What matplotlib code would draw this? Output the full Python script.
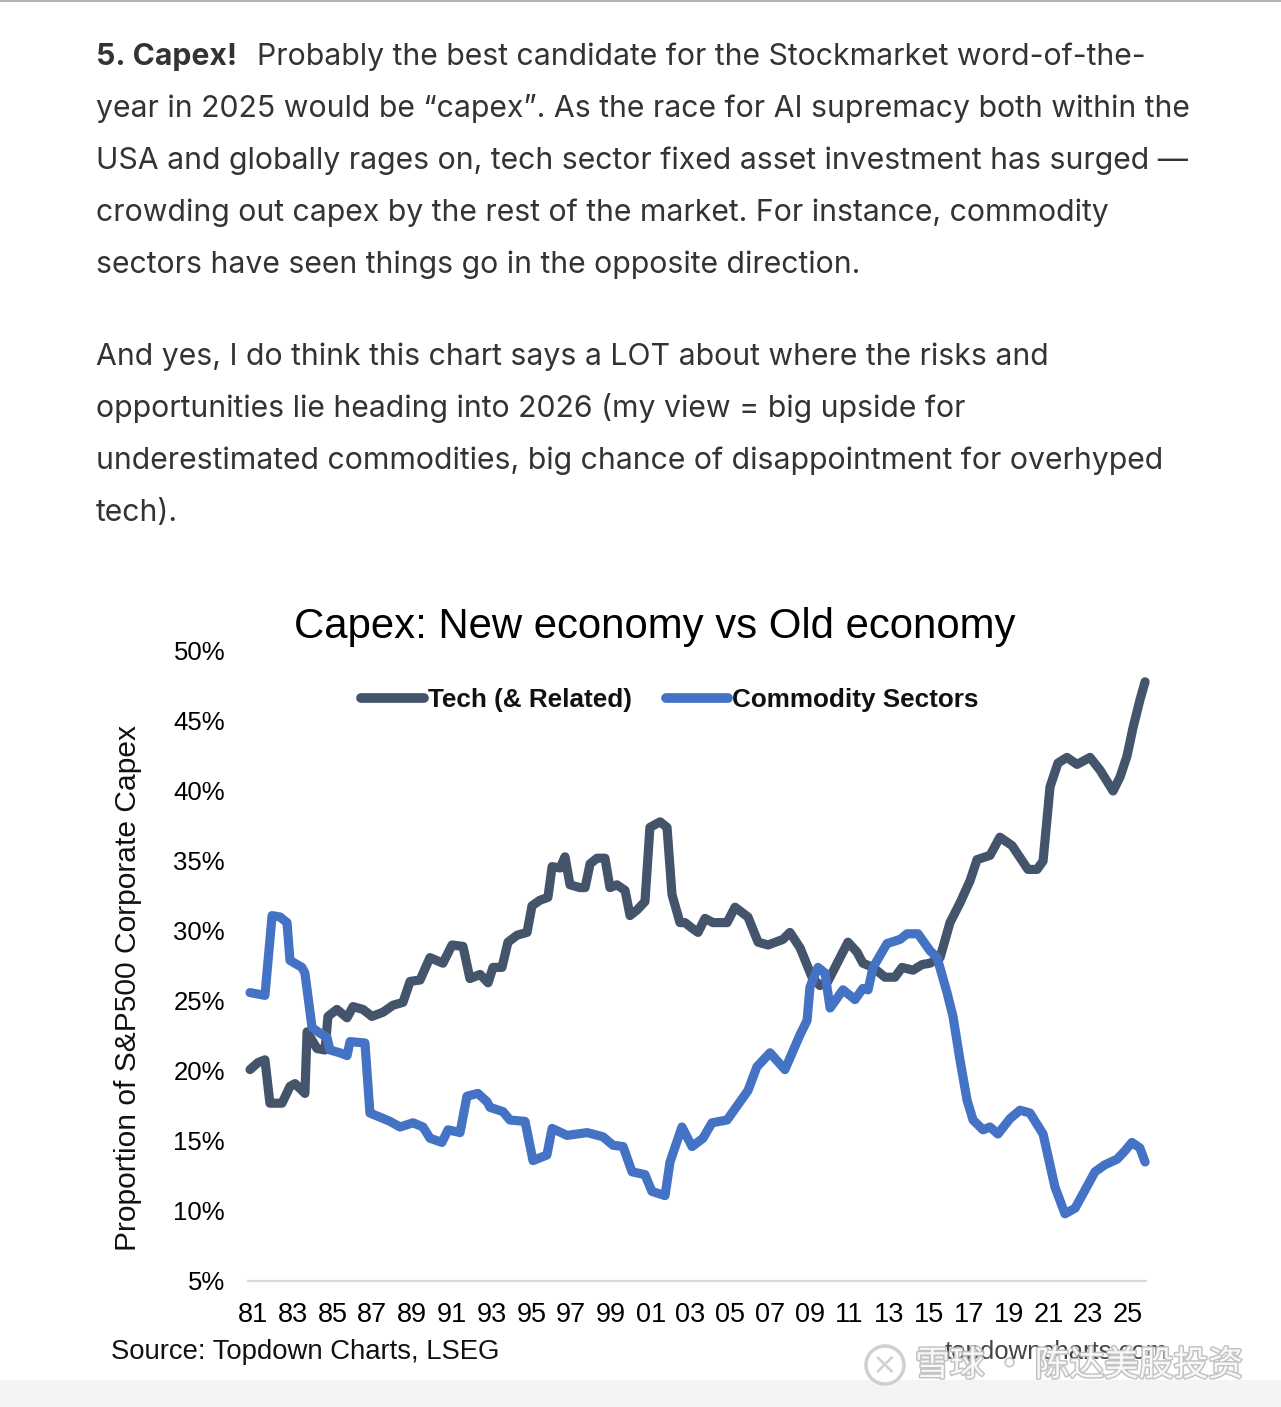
import matplotlib
matplotlib.use("Agg")
import matplotlib.pyplot as plt
import matplotlib.patheffects as pe
from matplotlib.patches import Circle, Rectangle
from matplotlib.transforms import IdentityTransform

W, H = 1281, 1407

# ---- data (decimal year, % of S&P500 capex) ----
tech_years = [1980.85, 1981.25, 1981.60, 1981.85, 1982.46, 1982.86, 1983.11, 1983.61, 1983.72,
              1984.22, 1984.62, 1984.77, 1985.22, 1985.73, 1986.03, 1986.53, 1986.98, 1987.54,
              1988.04, 1988.54, 1988.90, 1989.40, 1989.90, 1990.55, 1991.01, 1991.56, 1991.91,
              1992.42, 1992.82, 1993.07, 1993.52, 1993.82, 1994.28, 1994.78, 1995.03, 1995.43,
              1995.83, 1996.04, 1996.44, 1996.69, 1996.94, 1997.44, 1997.70, 1997.95, 1998.30,
              1998.70, 1998.95, 1999.30, 1999.71, 1999.96, 2000.31, 2000.71, 2000.96, 2001.47,
              2001.82, 2002.07, 2002.47, 2002.72, 2003.08, 2003.38, 2003.73, 2004.13, 2004.84,
              2005.24, 2005.89, 2006.40, 2006.90, 2007.65, 2008.00, 2008.51, 2009.11, 2009.51,
              2009.91, 2010.52, 2010.92, 2011.37, 2011.67, 2012.18, 2012.78, 2013.28, 2013.64,
              2014.19, 2014.64, 2015.04, 2015.55, 2016.05, 2016.55, 2017.06, 2017.41, 2018.06,
              2018.56, 2019.17, 2019.97, 2020.43, 2020.73, 2021.08, 2021.48, 2021.93, 2022.44,
              2023.09, 2023.59, 2024.25, 2024.60, 2024.95, 2025.25, 2025.60, 2025.86]
tech_vals = [20.1, 20.6, 20.8, 17.7, 17.7, 18.9, 19.1, 18.4, 22.8,
             21.6, 21.5, 23.9, 24.4, 23.8, 24.6, 24.4, 23.9, 24.2,
             24.7, 24.9, 26.4, 26.5, 28.1, 27.7, 29.0, 28.9, 26.6,
             26.9, 26.3, 27.4, 27.4, 29.2, 29.7, 29.9, 31.8, 32.2,
             32.4, 34.6, 34.5, 35.3, 33.3, 33.1, 33.1, 34.8, 35.2,
             35.2, 33.1, 33.3, 32.9, 31.1, 31.5, 32.1, 37.4, 37.8,
             37.4, 32.6, 30.6, 30.6, 30.2, 29.9, 30.9, 30.6, 30.6,
             31.7, 31.0, 29.2, 29.0, 29.4, 29.9, 28.8, 26.7, 26.1,
             26.4, 28.1, 29.2, 28.5, 27.7, 27.4, 26.7, 26.7, 27.4,
             27.2, 27.6, 27.7, 28.1, 30.6, 32.0, 33.6, 35.1, 35.4,
             36.7, 36.1, 34.4, 34.4, 35.0, 40.3, 42.0, 42.4, 41.9,
             42.4, 41.5, 40.0, 41.0, 42.5, 44.5, 46.5, 47.8]

comm_years = [1980.85, 1981.60, 1981.96, 1982.36, 1982.71, 1982.86, 1983.46, 1983.61, 1983.97,
              1984.37, 1984.72, 1984.87, 1985.37, 1985.73, 1985.88, 1986.63, 1986.88, 1987.39,
              1987.89, 1988.39, 1989.05, 1989.55, 1989.90, 1990.50, 1990.81, 1991.41, 1991.76,
              1992.31, 1992.77, 1992.92, 1993.57, 1993.92, 1994.68, 1995.08, 1995.78, 1996.04,
              1996.79, 1997.80, 1998.60, 1999.10, 1999.61, 2000.06, 2000.71, 2001.06, 2001.72,
              2001.97, 2002.57, 2003.08, 2003.63, 2004.08, 2004.84, 2005.49, 2005.89, 2006.34,
              2007.00, 2007.75, 2008.51, 2008.86, 2009.01, 2009.41, 2009.76, 2010.02, 2010.67,
              2011.27, 2011.67, 2011.93, 2012.18, 2012.88, 2013.54, 2013.89, 2014.44, 2015.04,
              2015.40, 2015.90, 2016.20, 2016.55, 2016.91, 2017.21, 2017.71, 2018.06, 2018.46,
              2019.07, 2019.57, 2020.07, 2020.73, 2021.33, 2021.83, 2022.34, 2022.84, 2023.34,
              2023.84, 2024.45, 2024.85, 2025.20, 2025.60, 2025.86]
comm_vals = [25.6, 25.4, 31.1, 31.0, 30.6, 27.9, 27.4, 27.0, 23.1,
             22.7, 22.4, 21.5, 21.3, 21.1, 22.1, 22.0, 17.0, 16.7,
             16.4, 16.0, 16.3, 16.0, 15.2, 14.9, 15.8, 15.6, 18.2,
             18.4, 17.8, 17.4, 17.1, 16.5, 16.4, 13.6, 14.0, 15.9,
             15.4, 15.6, 15.3, 14.7, 14.6, 12.8, 12.6, 11.4, 11.1,
             13.5, 16.0, 14.6, 15.2, 16.3, 16.5, 17.8, 18.6, 20.3,
             21.3, 20.1, 22.6, 23.6, 26.0, 27.4, 27.0, 24.5, 25.8,
             25.1, 25.9, 25.8, 27.4, 29.1, 29.4, 29.8, 29.8, 28.6,
             28.1, 25.6, 23.9, 20.8, 17.9, 16.5, 15.8, 16.0, 15.5,
             16.6, 17.2, 17.0, 15.5, 11.7, 9.8, 10.2, 11.5, 12.8,
             13.3, 13.7, 14.3, 14.9, 14.5, 13.5]

x_ticks = list(range(1981, 2026, 2))
x_labels = ["%02d" % (y % 100) for y in x_ticks]
y_ticks = list(range(5, 51, 5))
y_labels = ["%d%%" % v for v in y_ticks]

series_names = ["Tech (& Related)", "Commodity Sectors"]
title = "Capex: New economy vs Old economy"
ylabel = "Proportion of S&P500 Corporate Capex"

para1 = ["year in 2025 would be \u201ccapex\u201d. As the race for AI supremacy both within the",
         "USA and globally rages on, tech sector fixed asset investment has surged \u2014",
         "crowding out capex by the rest of the market. For instance, commodity",
         "sectors have seen things go in the opposite direction."]
para2 = ["And yes, I do think this chart says a LOT about where the risks and",
         "opportunities lie heading into 2026 (my view = big upside for",
         "underestimated commodities, big chance of disappointment for overhyped",
         "tech)."]

TECH_C = "#44546a"
COMM_C = "#4472c4"
BODY_C = "#333333"
CHART_FONT = "Liberation Sans"
BODY_FONT = "Inter"


def fx(px):
    return px / W


def fy(py):
    return 1 - py / H


fig = plt.figure(figsize=(W / 100, H / 100), dpi=100)
fig.patch.set_facecolor("white")

# top border and bottom grey strip
fig.add_artist(Rectangle((0, H - 2), W, 2, transform=IdentityTransform(),
                         facecolor="#b4b4b4", edgecolor="none"))
fig.add_artist(Rectangle((0, 0), W, H - 1380, transform=IdentityTransform(),
                         facecolor="#f4f4f5", edgecolor="none"))

# ---- article text ----
renderer = fig.canvas.get_renderer()
probe = fig.text(0, 0, para1[0], fontsize=22, family=BODY_FONT)
pw = probe.get_window_extent(renderer).width
probe.remove()
body_size = 22 * (1190 - 96) / pw

fig.text(fx(96), fy(65), "5. Capex!", fontsize=body_size, family=BODY_FONT,
         fontweight="bold", color=BODY_C, va="baseline")
fig.text(fx(257), fy(65), "Probably the best candidate for the Stockmarket word-of-the-",
         fontsize=body_size, family=BODY_FONT, color=BODY_C, va="baseline")
for i, line in enumerate(para1):
    fig.text(fx(96), fy(117 + 52 * i), line, fontsize=body_size, family=BODY_FONT,
             color=BODY_C, va="baseline")
for i, line in enumerate(para2):
    fig.text(fx(96), fy(365 + 52 * i), line, fontsize=body_size, family=BODY_FONT,
             color=BODY_C, va="baseline")

# ---- chart ----
x0, x1 = 248, 1146
y_top, y_bot = 651, 1281
ax = fig.add_axes([fx(x0), fy(y_bot), (x1 - x0) / W, (y_bot - y_top) / H])
yr0 = 1981 + (x0 - 253) / 19.886
yr1 = 1981 + (x1 - 253) / 19.886
ax.set_xlim(yr0, yr1)
ax.set_ylim(5, 50)

ax.plot(tech_years, tech_vals, color=TECH_C, lw=6.6, solid_joinstyle="round",
        solid_capstyle="round", label=series_names[0], clip_on=False)
ax.plot(comm_years, comm_vals, color=COMM_C, lw=6.6, solid_joinstyle="round",
        solid_capstyle="round", label=series_names[1], clip_on=False)

for s in ["top", "right", "left"]:
    ax.spines[s].set_visible(False)
ax.spines["bottom"].set_color("#d9d9d9")
ax.spines["bottom"].set_linewidth(1.6)
ax.set_xticks(x_ticks)
ax.set_xticklabels(x_labels, family=CHART_FONT, fontsize=19.5)
ax.set_yticks(y_ticks)
ax.set_yticklabels(y_labels, family=CHART_FONT, fontsize=18.5)
ax.tick_params(axis="both", length=0)
ax.tick_params(axis="y", pad=16.5)
ax.tick_params(axis="x", pad=15)

leg = ax.legend(loc="center", bbox_to_anchor=(fx(670), fy(700)),
                bbox_transform=fig.transFigure, ncol=2, frameon=False,
                handlelength=2.4, handletextpad=0.15, columnspacing=1.3,
                prop={"family": CHART_FONT, "weight": "bold", "size": 18.8})
for t in leg.get_texts():
    t.set_color("#111111")
for h in leg.legend_handles:
    h.set_linewidth(7)

fig.text(fx(655), fy(627), title, fontsize=30.2, family=CHART_FONT,
         ha="center", va="center", color="black")
fig.text(fx(128), fy(988), ylabel, fontsize=21.6, family=CHART_FONT,
         rotation=90, ha="center", va="center", color="#111111")
fig.text(fx(111), fy(1352), "Source: Topdown Charts, LSEG", fontsize=19.8,
         family=CHART_FONT, ha="left", va="center", color="#111111")
fig.text(fx(1056), fy(1352), "topdowncharts.com", fontsize=18.5,
         family=CHART_FONT, ha="center", va="center", color="#444444")

# ---- watermark ----
halo = [pe.withStroke(linewidth=2.2, foreground="#bdbdbd")]
logo = Circle((885, H - 1365), 19, transform=IdentityTransform(),
              facecolor="white", edgecolor="#c8c8c8", lw=2.5, alpha=0.85)
fig.add_artist(logo)
fig.text(fx(885), fy(1365), "\u00d7", fontsize=22, family="DejaVu Sans",
         ha="center", va="center", color="#d0d0d0")
fig.text(fx(915), fy(1366), "雪球 · 陈达美股投资", fontsize=25,
         family=["Noto Sans CJK SC", "DejaVu Sans"], ha="left", va="center",
         color="white", alpha=0.9, path_effects=halo)

fig.savefig("out.png", dpi=100)
